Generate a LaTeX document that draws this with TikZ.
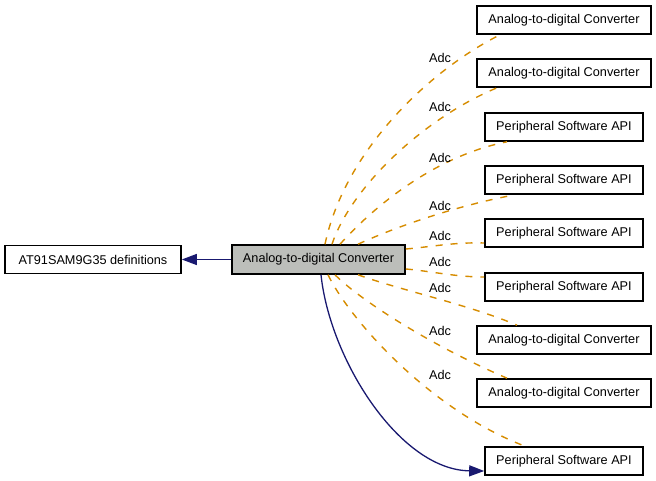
\documentclass[tikz,border=0pt]{standalone}
\usepackage{fontspec}
\setmainfont{Liberation Sans}
\usetikzlibrary{arrows.meta}
\definecolor{edgeor}{RGB}{214,140,0}
\definecolor{navyc}{RGB}{25,25,112}
\definecolor{cfill}{RGB}{188,190,186}
\tikzset{
  box/.style={draw=black, line width=1.6pt, fill=white, minimum height=28pt, inner sep=0pt, font=\fontsize{12.7}{15}\selectfont},
  adcbox/.style={box, minimum width=174pt},
  psabox/.style={box, minimum width=158pt},
  dep/.style={draw=edgeor, line width=1.4pt, dash pattern=on 7pt off 8pt},
  lbl/.style={font=\fontsize{12.7}{15}\selectfont, inner sep=0pt},
  nav/.style={draw=navyc, line width=1.3pt},
  navtip/.style={-{Triangle[length=15pt,width=11pt]}},
}
\begin{document}
\begin{tikzpicture}[x=1pt,y=-1pt]
\useasboundingbox (0,0) rectangle (656,481);
\node[box, minimum width=176pt] (at) at (93,259.5) {AT91SAM9G35 definitions};
\node[box, minimum width=173pt, minimum height=29pt, fill=cfill] (c) at (318.5,259.5) {Analog-to-digital Converter};
\node[adcbox] (r1) at (564,20) {Analog-to-digital Converter};
\node[adcbox] (r2) at (564,73) {Analog-to-digital Converter};
\node[psabox] (r3) at (564,127) {Peripheral Software API};
\node[psabox] (r4) at (564,180) {Peripheral Software API};
\node[psabox] (r5) at (564,233) {Peripheral Software API};
\node[psabox] (r6) at (564,287) {Peripheral Software API};
\node[adcbox] (r7) at (564,340) {Analog-to-digital Converter};
\node[adcbox] (r8) at (564,393) {Analog-to-digital Converter};
\node[psabox] (r9) at (564,461) {Peripheral Software API};

\draw[nav, navtip] (c.west) -- (at.east);

\draw[dep] ([xshift=6.5pt]c.north) .. controls (345,150) and (430,70) .. ([xshift=-64pt]r1.south);
\draw[dep] ([xshift=13.5pt]c.north) .. controls (350,190) and (420,120) .. ([xshift=-67pt]r2.south);
\draw[dep] ([xshift=21.5pt]c.north) .. controls (380,200) and (440,155) .. ([xshift=-57pt]r3.south);
\draw[dep] ([xshift=39.5pt]c.north) .. controls (400,225) and (460,205) .. ([xshift=-49pt]r4.south);
\draw[dep] ([yshift=10.5pt]c.east) .. controls (430,247) and (455,242) .. ([yshift=-10pt]r5.west);
\draw[dep] ([yshift=-9.5pt]c.east) .. controls (430,271) and (455,277) .. ([yshift=10pt]r6.west);
\draw[dep] ([xshift=39.5pt]c.south) .. controls (400,290) and (470,305) .. ([xshift=-47pt]r7.north);
\draw[dep] ([xshift=16.5pt]c.south) .. controls (360,300) and (430,345) .. ([xshift=-57pt]r8.north);
\draw[dep] ([xshift=9.5pt]c.south) .. controls (350,320) and (430,410) .. ([xshift=-39pt]r9.north);

\draw[nav, navtip] ([xshift=2.5pt]c.south) .. controls (330,360) and (400,470) .. ([yshift=-10pt]r9.west);

\node[lbl] (l1) at (440,58) {Adc};
\node[lbl] (l2) at (440,107) {Adc};
\node[lbl] (l3) at (440,158) {Adc};
\node[lbl] (l4) at (440,206) {Adc};
\node[lbl] (l5) at (440,236) {Adc};
\node[lbl] (l6) at (440,262) {Adc};
\node[lbl] (l7) at (440,288) {Adc};
\node[lbl] (l8) at (440,331) {Adc};
\node[lbl] (l9) at (440,375) {Adc};
\end{tikzpicture}
\end{document}
